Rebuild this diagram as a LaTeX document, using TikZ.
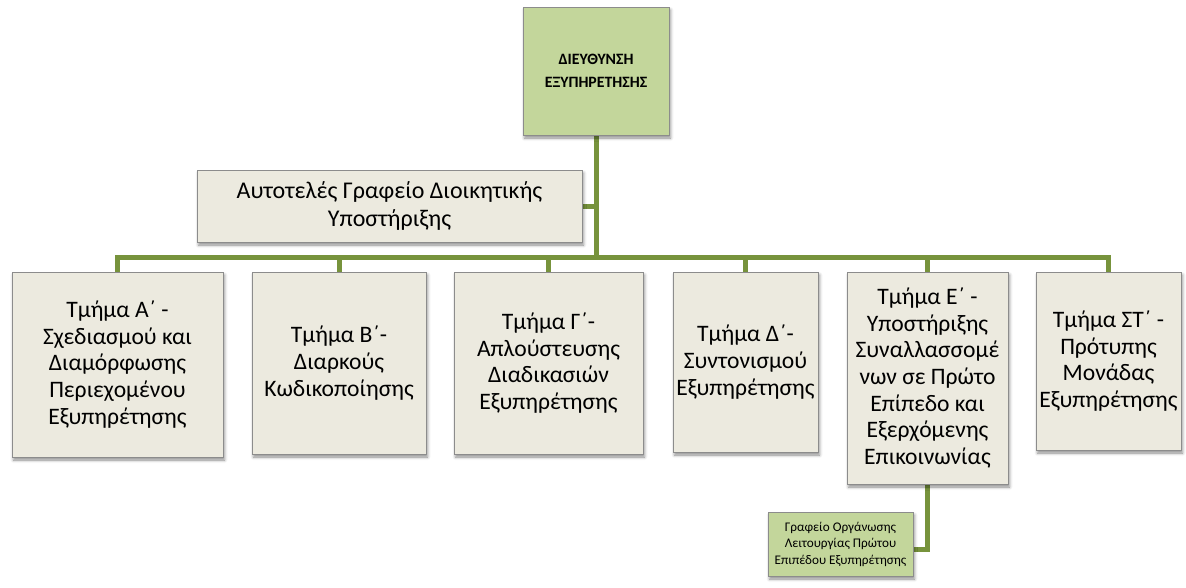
\documentclass[tikz,border=0pt]{standalone}
\usepackage{fontspec}
\setmainfont{Carlito}
\usetikzlibrary{shadows.blur,backgrounds}
\definecolor{boxfill}{HTML}{ECEADF}
\definecolor{greenfill}{HTML}{C3D69B}
\definecolor{linegreen}{HTML}{77933C}
\definecolor{boxborder}{HTML}{8C8C8C}
\tikzset{
  orgbox/.style={draw=boxborder, line width=0.9pt, fill=boxfill, inner sep=0pt, align=center,
    blur shadow={shadow xshift=1.5pt, shadow yshift=-3pt, shadow blur radius=3pt, shadow opacity=45},
    font=\fontsize{23.6}{26.6}\selectfont},
  greenbox/.style={orgbox, fill=greenfill},
  conn/.style={draw=linegreen, line width=5pt, line join=miter}
}
\begin{document}
\begin{tikzpicture}[x=1pt,y=-1pt]
\useasboundingbox (0,0) rectangle (1186,587);
\node[greenbox, minimum width=146, minimum height=128, font=\fontsize{15.8}{23}\selectfont\bfseries] (top) at (596,71) {ΔΙΕΥΘΥΝΣΗ\\ΕΞΥΠΗΡΕΤΗΣΗΣ};
\node[orgbox, minimum width=385, minimum height=72, font=\fontsize{24}{28}\selectfont] (auto) at (389.5,206) {Αυτοτελές Γραφείο Διοικητικής\\Υποστήριξης};
\node[orgbox, minimum width=211, minimum height=185] (A) at (117.5,364.5) {Τμήμα Α΄ -\\Σχεδιασμού και\\Διαμόρφωσης\\Περιεχομένου\\Εξυπηρέτησης};
\node[orgbox, minimum width=174, minimum height=182] (B) at (339,363) {Τμήμα Β΄-\\Διαρκούς\\Κωδικοποίησης};
\node[orgbox, minimum width=189, minimum height=182] (C) at (548.5,363) {Τμήμα Γ΄-\\Απλούστευσης\\Διαδικασιών\\Εξυπηρέτησης};
\node[orgbox, minimum width=145, minimum height=180] (D) at (745.5,362) {Τμήμα Δ΄-\\Συντονισμού\\Εξυπηρέτησης};
\node[orgbox, minimum width=161, minimum height=212] (E) at (927.5,378) {Τμήμα Ε΄ -\\Υποστήριξης\\Συναλλασσομέ\\νων σε Πρώτο\\Επίπεδο και\\Εξερχόμενης\\Επικοινωνίας};
\node[orgbox, minimum width=145, minimum height=178] (ST) at (1108.5,361) {Τμήμα ΣΤ΄ -\\Πρότυπης\\Μονάδας\\Εξυπηρέτησης};
\node[greenbox, minimum width=145, minimum height=64, font=\fontsize{13.2}{16.5}\selectfont] (small) at (840.5,544) {Γραφείο Οργάνωσης\\Λειτουργίας Πρώτου\\Επιπέδου Εξυπηρέτησης};
\coordinate (j) at (596,257);
\begin{scope}[on background layer]
\draw[conn] (top.south) -- (j);
\draw[conn] (auto.east) -- (auto.east -| top.south);
\draw[conn] (A.north) -- (A.north |- j) -- (ST.north |- j) -- (ST.north);
\foreach \n in {B,C,D,E} \draw[conn] (\n.north |- j) -- (\n.north);
\draw[conn] (E.south) |- ([yshift=-5pt]small.east);
\end{scope}
\end{tikzpicture}
\end{document}
